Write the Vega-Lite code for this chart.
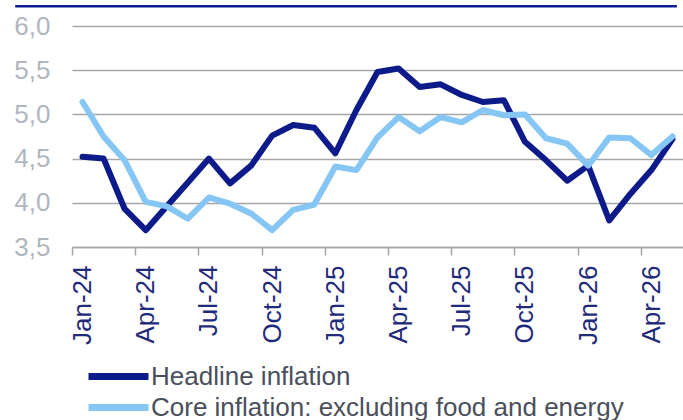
{
  "$schema": "https://vega.github.io/schema/vega-lite/v6.json",
  "width": 611,
  "height": 221,
  "autosize": "none",
  "padding": {"left": 72, "top": 26, "right": 0, "bottom": 173},
  "config": {
    "font": "Liberation Sans",
    "view": {"stroke": null},
    "locale": {"number": {"decimal": ",", "thousands": ".", "grouping": [3], "currency": ["", " €"]}}
  },
  "datasets": {
    "frame": [{"x0": -0.093, "x1": 0.99, "value": 6.223}],
    "series": [
      {"month": "Jan-24", "series": "Headline inflation", "value": 4.52},
      {"month": "Feb-24", "series": "Headline inflation", "value": 4.5},
      {"month": "Mar-24", "series": "Headline inflation", "value": 3.93},
      {"month": "Apr-24", "series": "Headline inflation", "value": 3.69},
      {"month": "May-24", "series": "Headline inflation", "value": 3.96},
      {"month": "Jun-24", "series": "Headline inflation", "value": 4.23},
      {"month": "Jul-24", "series": "Headline inflation", "value": 4.5},
      {"month": "Aug-24", "series": "Headline inflation", "value": 4.22},
      {"month": "Sep-24", "series": "Headline inflation", "value": 4.42},
      {"month": "Oct-24", "series": "Headline inflation", "value": 4.76},
      {"month": "Nov-24", "series": "Headline inflation", "value": 4.88},
      {"month": "Dec-24", "series": "Headline inflation", "value": 4.85},
      {"month": "Jan-25", "series": "Headline inflation", "value": 4.56},
      {"month": "Feb-25", "series": "Headline inflation", "value": 5.05},
      {"month": "Mar-25", "series": "Headline inflation", "value": 5.48},
      {"month": "Apr-25", "series": "Headline inflation", "value": 5.52},
      {"month": "May-25", "series": "Headline inflation", "value": 5.31},
      {"month": "Jun-25", "series": "Headline inflation", "value": 5.34},
      {"month": "Jul-25", "series": "Headline inflation", "value": 5.22},
      {"month": "Aug-25", "series": "Headline inflation", "value": 5.14},
      {"month": "Sep-25", "series": "Headline inflation", "value": 5.16},
      {"month": "Oct-25", "series": "Headline inflation", "value": 4.69},
      {"month": "Nov-25", "series": "Headline inflation", "value": 4.48},
      {"month": "Dec-25", "series": "Headline inflation", "value": 4.25},
      {"month": "Jan-26", "series": "Headline inflation", "value": 4.42},
      {"month": "Feb-26", "series": "Headline inflation", "value": 3.8},
      {"month": "Mar-26", "series": "Headline inflation", "value": 4.1},
      {"month": "Apr-26", "series": "Headline inflation", "value": 4.37},
      {"month": "May-26", "series": "Headline inflation", "value": 4.72},
      {"month": "Jan-24", "series": "Core inflation: excluding food and energy", "value": 5.14},
      {"month": "Feb-24", "series": "Core inflation: excluding food and energy", "value": 4.75},
      {"month": "Mar-24", "series": "Core inflation: excluding food and energy", "value": 4.48},
      {"month": "Apr-24", "series": "Core inflation: excluding food and energy", "value": 4.01},
      {"month": "May-24", "series": "Core inflation: excluding food and energy", "value": 3.96},
      {"month": "Jun-24", "series": "Core inflation: excluding food and energy", "value": 3.82},
      {"month": "Jul-24", "series": "Core inflation: excluding food and energy", "value": 4.06},
      {"month": "Aug-24", "series": "Core inflation: excluding food and energy", "value": 3.99},
      {"month": "Sep-24", "series": "Core inflation: excluding food and energy", "value": 3.88},
      {"month": "Oct-24", "series": "Core inflation: excluding food and energy", "value": 3.69},
      {"month": "Nov-24", "series": "Core inflation: excluding food and energy", "value": 3.92},
      {"month": "Dec-24", "series": "Core inflation: excluding food and energy", "value": 3.98},
      {"month": "Jan-25", "series": "Core inflation: excluding food and energy", "value": 4.41},
      {"month": "Feb-25", "series": "Core inflation: excluding food and energy", "value": 4.37},
      {"month": "Mar-25", "series": "Core inflation: excluding food and energy", "value": 4.74},
      {"month": "Apr-25", "series": "Core inflation: excluding food and energy", "value": 4.97},
      {"month": "May-25", "series": "Core inflation: excluding food and energy", "value": 4.81},
      {"month": "Jun-25", "series": "Core inflation: excluding food and energy", "value": 4.97},
      {"month": "Jul-25", "series": "Core inflation: excluding food and energy", "value": 4.91},
      {"month": "Aug-25", "series": "Core inflation: excluding food and energy", "value": 5.05},
      {"month": "Sep-25", "series": "Core inflation: excluding food and energy", "value": 4.99},
      {"month": "Oct-25", "series": "Core inflation: excluding food and energy", "value": 5.0},
      {"month": "Nov-25", "series": "Core inflation: excluding food and energy", "value": 4.73},
      {"month": "Dec-25", "series": "Core inflation: excluding food and energy", "value": 4.67},
      {"month": "Jan-26", "series": "Core inflation: excluding food and energy", "value": 4.42},
      {"month": "Feb-26", "series": "Core inflation: excluding food and energy", "value": 4.74},
      {"month": "Mar-26", "series": "Core inflation: excluding food and energy", "value": 4.73},
      {"month": "Apr-26", "series": "Core inflation: excluding food and energy", "value": 4.54},
      {"month": "May-26", "series": "Core inflation: excluding food and energy", "value": 4.75}
    ]
  },
  "layer": [
    {
      "data": {"name": "series"},
      "mark": {"type": "line", "strokeWidth": 6, "strokeCap": "round", "strokeJoin": "round"},
      "encoding": {
        "x": {
          "field": "month",
          "type": "ordinal",
          "sort": null,
          "scale": {"type": "band", "paddingInner": 0, "paddingOuter": 0},
          "axis": {
            "title": null,
            "values": ["Jan-24", "Apr-24", "Jul-24", "Oct-24", "Jan-25", "Apr-25", "Jul-25", "Oct-25", "Jan-26", "Apr-26"],
            "labelAngle": -90,
            "labelAlign": "right",
            "labelBaseline": "middle",
            "labelFontSize": 26,
            "labelColor": "#1f2a7a",
            "labelPadding": 10,
            "tickOffset": -10.53,
            "labelOffset": 10.53,
            "tickSize": 8,
            "tickColor": "#a6a6a6",
            "tickWidth": 1.5,
            "domainColor": "#a6a6a6",
            "domainWidth": 1.5,
            "grid": false
          }
        },
        "y": {
          "field": "value",
          "type": "quantitative",
          "scale": {"domain": [3.5, 6], "nice": false, "zero": false},
          "axis": {
            "title": null,
            "values": [3.5, 4, 4.5, 5, 5.5, 6],
            "format": ".1f",
            "domain": false,
            "ticks": false,
            "grid": true,
            "gridColor": "#a6a6a6",
            "gridWidth": 1.5,
            "labelFontSize": 26,
            "labelColor": "#b0b6be",
            "labelPadding": 22
          }
        },
        "color": {
          "field": "series",
          "type": "nominal",
          "scale": {
            "domain": ["Headline inflation", "Core inflation: excluding food and energy"],
            "range": ["#0c1a8a", "#86c6f4"]
          },
          "legend": {
            "title": null,
            "orient": "none",
            "legendX": 33,
            "legendY": 337,
            "symbolType": "M-3,0L3,0",
            "symbolSize": 400,
            "symbolStrokeWidth": 7,
            "symbolStrokeCap": "round",
            "labelFontSize": 26,
            "labelColor": "#4a4f5c",
            "labelOffset": 19,
            "rowPadding": 2,
            "padding": 0,
            "labelLimit": 600
          }
        }
      }
    },
    {
      "data": {"name": "frame"},
      "mark": {"type": "rule", "clip": false, "color": "#0c1e96", "strokeWidth": 2.5},
      "encoding": {
        "x": {"field": "x0", "type": "quantitative", "scale": {"domain": [0, 1]}, "axis": null},
        "x2": {"field": "x1"},
        "y": {"field": "value", "type": "quantitative"}
      }
    }
  ],
  "resolve": {"scale": {"x": "independent"}, "axis": {"x": "independent"}}
}
